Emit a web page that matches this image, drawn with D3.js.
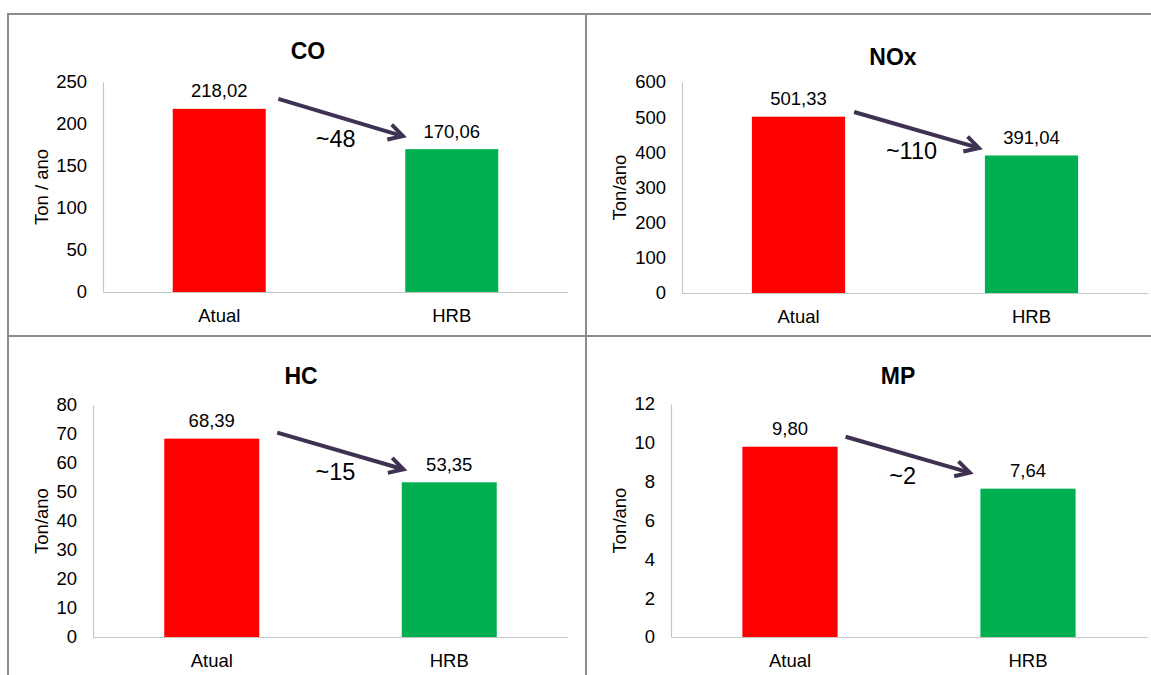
<!DOCTYPE html>
<html>
<head>
<meta charset="utf-8">
<script src="https://cdn.jsdelivr.net/npm/d3@7"></script>
<style>
  html, body { margin: 0; padding: 0; background: #fff; }
  svg { display: block; font-family: "Liberation Sans", Arial, sans-serif; }
</style>
</head>
<body>
<script>
// Emissões anuais por poluente: cenário atual vs. HRB
const pollutants = ["CO", "NOx", "HC", "MP"];
const categories = ["Atual", "HRB"];
const atualValues = [218.02, 501.33, 68.39, 9.80];
const hrbValues = [170.06, 391.04, 53.35, 7.64];
const reductionLabels = ["~48", "~110", "~15", "~2"];
const yAxisTitles = ["Ton / ano", "Ton/ano", "Ton/ano", "Ton/ano"];
const yMaxValues = [250, 600, 80, 12];
const yTickSteps = [50, 100, 10, 2];

const barColors = { "Atual": "#ff0000", "HRB": "#00b050" };

// Panel geometry (frame origin, plot area, title placement, arrow nudges)
const layout = [
  { x0: 8,   left: 103, right: 568,  top: 82,  bottom: 292, titleX: 308, titleY: 59,
    aStart: [12.6, 10], aEnd: [2.3, 13] },
  { x0: 586, left: 682, right: 1148, top: 82,  bottom: 293, titleX: 893, titleY: 65,
    aStart: [9, 4.7],   aEnd: [6, 7.5] },
  { x0: 8,   left: 93,  right: 568,  top: 405, bottom: 637, titleX: 301, titleY: 384,
    aStart: [18, 6],    aEnd: [-1.7, 13] },
  { x0: 586, left: 671, right: 1147, top: 404, bottom: 637, titleX: 898, titleY: 384,
    aStart: [8, 10],    aEnd: [10.6, 16] }
];

const W = 1151, H = 675;
const fontSize = 18.5;
const ptBR = d3.formatLocale({ decimal: ",", thousands: ".", grouping: [3], currency: ["R$", ""] });
const fmtValue = ptBR.format(".2f");

const svg = d3.select("body").append("svg").attr("width", W).attr("height", H);
svg.append("rect").attr("width", W).attr("height", H).attr("fill", "#fff");

pollutants.forEach((name, i) => {
  const L = layout[i];
  const values = [atualValues[i], hrbValues[i]];
  const g = svg.append("g");

  const x = d3.scaleBand().domain(categories).range([L.left, L.right]);
  const y = d3.scaleLinear().domain([0, yMaxValues[i]]).range([L.bottom, L.top]);
  const ticks = d3.range(0, yMaxValues[i] + yTickSteps[i] / 2, yTickSteps[i]);
  const bw = x.bandwidth() * 0.4;
  const barX = c => x(c) + (x.bandwidth() - bw) / 2;

  // Y axis
  const yAxis = g.append("g")
    .attr("transform", `translate(${L.left},0)`)
    .call(d3.axisLeft(y).tickValues(ticks).tickSize(0).tickSizeOuter(0).tickPadding(16).tickFormat(d3.format("d")));
  yAxis.attr("font-size", fontSize).attr("font-family", null);
  yAxis.select(".domain").attr("stroke", "#c6c6c6").attr("stroke-width", 1.2);
  yAxis.selectAll(".tick text").attr("fill", "#000");

  // X axis
  const xAxis = g.append("g")
    .attr("transform", `translate(0,${L.bottom})`)
    .call(d3.axisBottom(x).tickSize(0).tickSizeOuter(0).tickPadding(17));
  xAxis.attr("font-size", fontSize).attr("font-family", null);
  xAxis.select(".domain").attr("stroke", "#c6c6c6").attr("stroke-width", 1.2);
  xAxis.selectAll(".tick text").attr("fill", "#000");

  // Bars
  g.selectAll("rect.bar")
    .data(categories.map((c, k) => ({ c, v: values[k] })))
    .join("rect")
    .attr("class", "bar")
    .attr("x", d => barX(d.c))
    .attr("width", bw)
    .attr("y", d => y(d.v))
    .attr("height", d => y(0) - y(d.v))
    .attr("fill", d => barColors[d.c]);

  // Value labels
  g.selectAll("text.val")
    .data(categories.map((c, k) => ({ c, v: values[k] })))
    .join("text")
    .attr("class", "val")
    .attr("x", d => x(d.c) + x.bandwidth() / 2)
    .attr("y", d => y(d.v) - 11.5)
    .attr("text-anchor", "middle")
    .attr("font-size", fontSize)
    .attr("fill", "#000")
    .text(d => fmtValue(d.v));

  // Title
  g.append("text")
    .attr("x", L.titleX)
    .attr("y", L.titleY)
    .attr("text-anchor", "middle")
    .attr("font-size", 23)
    .attr("font-weight", "bold")
    .attr("fill", "#000")
    .text(name);

  // Y axis title
  const yTitleX = L.x0 + 39.5;
  const yTitleY = (L.top + L.bottom) / 2;
  g.append("text")
    .attr("transform", `translate(${yTitleX},${yTitleY}) rotate(-90)`)
    .attr("text-anchor", "middle")
    .attr("font-size", fontSize)
    .attr("fill", "#000")
    .text(yAxisTitles[i]);

  // Reduction arrow between the two bars
  const x1 = barX("Atual") + bw + L.aStart[0];
  const y1 = y(values[0]) - L.aStart[1];
  const x2 = barX("HRB") - L.aEnd[0];
  const y2 = y(values[1]) - L.aEnd[1];
  const ang = Math.atan2(y2 - y1, x2 - x1);
  const headLen = 16, headAng = Math.PI / 6.2;
  const w1 = [x2 - headLen * Math.cos(ang - headAng), y2 - headLen * Math.sin(ang - headAng)];
  const w2 = [x2 - headLen * Math.cos(ang + headAng), y2 - headLen * Math.sin(ang + headAng)];
  const arrowColor = "#3f3151";
  g.append("line")
    .attr("x1", x1).attr("y1", y1)
    .attr("x2", x2 - 2 * Math.cos(ang)).attr("y2", y2 - 2 * Math.sin(ang))
    .attr("stroke", arrowColor).attr("stroke-width", 4);
  g.append("path")
    .attr("d", d3.line()([w1, [x2, y2], w2]))
    .attr("fill", "none")
    .attr("stroke", arrowColor).attr("stroke-width", 4)
    .attr("stroke-linejoin", "miter");

  g.append("text")
    .attr("x", (x1 + x2) / 2 - 5)
    .attr("y", (y1 + y2) / 2 + 29.3)
    .attr("text-anchor", "middle")
    .attr("font-size", 23.5)
    .attr("fill", "#000")
    .text(reductionLabels[i]);
});

// Panel frame lines
const frameColor = "#8c8c8c";
const frame = svg.append("g").attr("stroke", frameColor).attr("stroke-width", 2).attr("fill", "none");
frame.append("line").attr("x1", 8).attr("y1", 14).attr("x2", W).attr("y2", 14);
frame.append("line").attr("x1", 8).attr("y1", 336).attr("x2", W).attr("y2", 336);
frame.append("line").attr("x1", 8).attr("y1", 13).attr("x2", 8).attr("y2", H);
frame.append("line").attr("x1", 586).attr("y1", 13).attr("x2", 586).attr("y2", H);
</script>
</body>
</html>
